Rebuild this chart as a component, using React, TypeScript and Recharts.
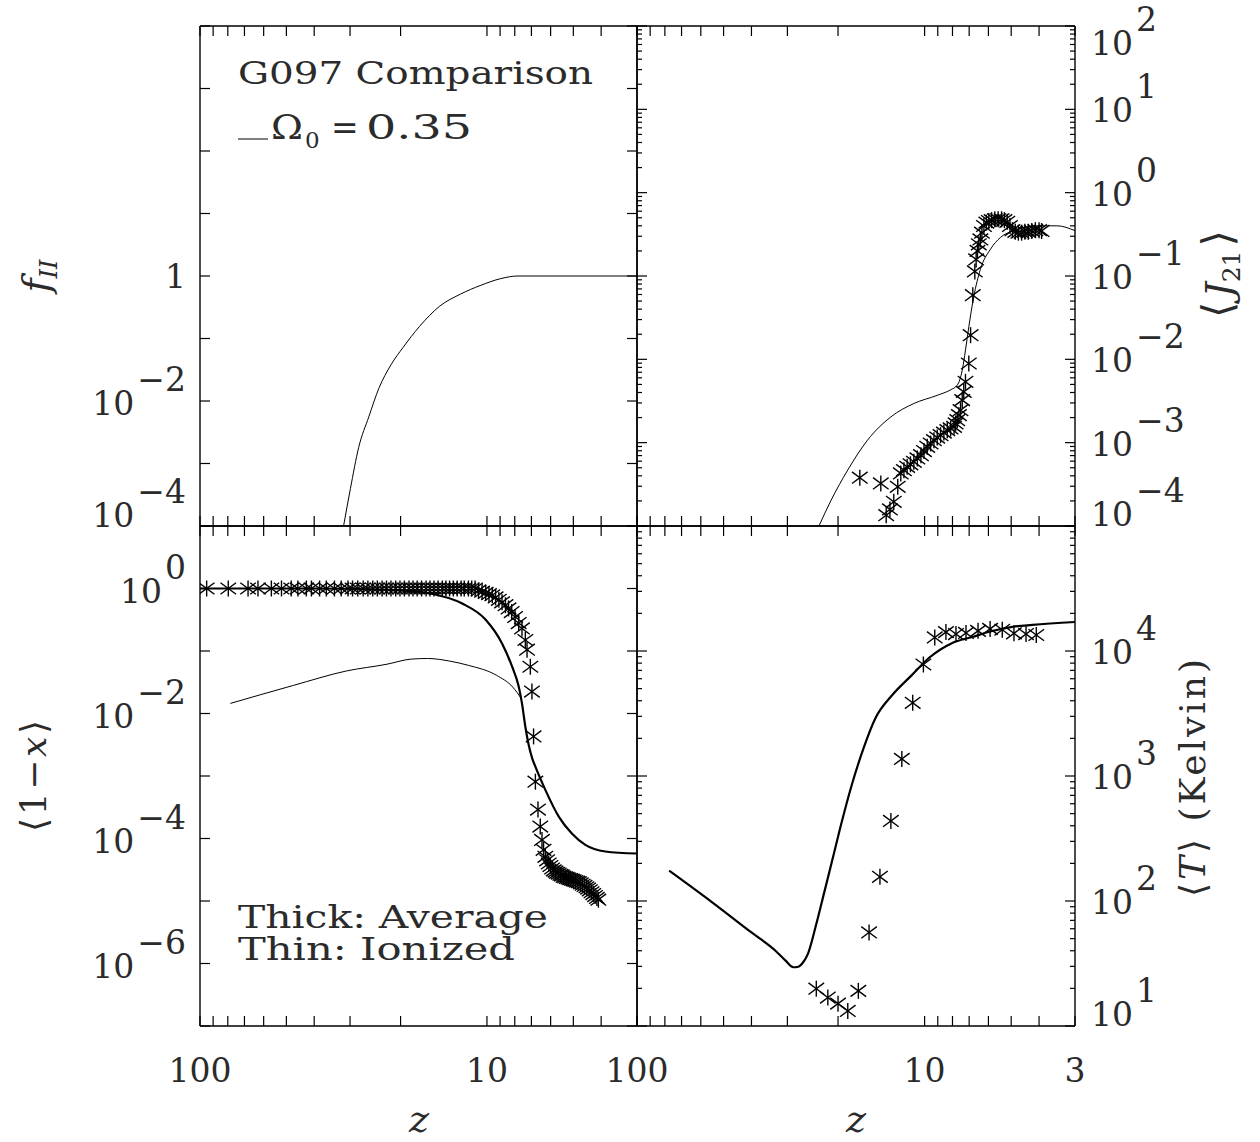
import { ComposedChart, Line, Scatter, XAxis, YAxis } from 'recharts';

const W = 1260;
const H = 1142;
const PLOT_H = 500;
const INK = '#000';
const TEXT = '#2b2b2b';
const SERIF = '"DejaVu Serif", "Liberation Serif", serif';

// Redshift axis shared by all four panels (high z on the left)
const zDomain: [number, number] = [3, 100];
const zTicks = [100, 90, 80, 70, 60, 50, 40, 30, 20, 10, 9, 8, 7, 6, 5, 4, 3];

// Ionized volume fraction f_II (Omega_0 = 0.35 model)
const fIIZ = [31.6, 29.9, 28.0, 25.8, 23.8, 21.6, 19.6, 17.2, 14.6, 12.4, 10.5, 8.94, 7.8, 3.0];
const fIIV = [1.0e-4, 4.0e-4, 1.8e-3, 5.6e-3, 1.6e-2, 3.8e-2, 7.2e-2, 0.155, 0.33, 0.51, 0.71, 0.91, 1.0, 1.0];

// <J21> model curve
const j21ModelZ = [23.3, 21.2, 18.5, 15.8, 13.1, 10.9, 9.04, 8.13, 7.7, 7.4, 7.21, 7.02, 6.75, 6.4, 5.9, 5.45, 4.9, 4.06, 3.46, 3.0];
const j21ModelV = [1.0e-4, 2.0e-4, 4.7e-4, 1.07e-3, 2.04e-3, 2.95e-3, 3.7e-3, 4.3e-3, 4.9e-3, 7.4e-3, 1.29e-2, 2.45e-2, 5.6e-2, 0.12, 0.21, 0.29, 0.35, 0.4, 0.4, 0.35];

// <J21> simulation (G097)
const j21SimZ = [
  16.8, 14.2, 13.6, 13.2, 12.8, 12.4, 12.1, 11.8, 11.5, 11.2, 10.9, 10.6, 10.3, 10.05, 9.79, 9.53, 9.28, 9.04,
  8.8, 8.57, 8.34, 8.12, 7.9, 7.8, 7.7, 7.6, 7.5, 7.4, 7.31, 7.21, 7.02, 6.92, 6.8, 6.69, 6.62, 6.55, 6.48, 6.4,
  6.32, 6.22, 6.1, 5.98, 5.85, 5.7, 5.55, 5.4, 5.28, 5.16, 5.05, 4.95, 4.84, 4.72, 4.6, 4.48, 4.36, 4.24, 4.12,
  4.0, 3.92,
];
const j21SimV = [
  3.8e-4, 3.24e-4, 1.35e-4, 1.58e-4, 1.95e-4, 2.95e-4, 4.27e-4, 4.68e-4, 5.13e-4, 5.5e-4, 5.89e-4, 6.46e-4,
  7.08e-4, 7.94e-4, 8.91e-4, 9.77e-4, 1.07e-3, 1.15e-3, 1.23e-3, 1.32e-3, 1.41e-3, 1.48e-3, 1.55e-3, 1.7e-3,
  1.86e-3, 2.14e-3, 2.45e-3, 3.24e-3, 4.07e-3, 5.37e-3, 8.91e-3, 1.95e-2, 5.89e-2, 0.1135, 0.158, 0.2, 0.24,
  0.275, 0.331, 0.398, 0.437, 0.457, 0.468, 0.479, 0.479, 0.479, 0.468, 0.447, 0.398, 0.355, 0.339, 0.331,
  0.331, 0.339, 0.339, 0.347, 0.355, 0.355, 0.347,
];

// <1-x>: volume average (thick) and ionized regions only (thin)
const xAvgZ = [100, 40, 25, 20, 15.9, 12.2, 10.1, 8.86, 8.17, 7.75, 7.55, 7.35, 7.15, 6.95, 6.78, 6.26, 5.62, 5.06, 4.54, 3.87, 3.0];
const xAvgV = [1.0, 1.0, 0.97, 0.93, 0.84, 0.575, 0.316, 0.132, 0.056, 0.027, 0.0145, 6.2e-3, 3.1e-3, 1.9e-3, 1.41e-3, 6.0e-4, 2.24e-4, 1.2e-4, 7.9e-5, 6.2e-5, 5.75e-5];
const xIonZ = [78.4, 47.2, 30.9, 22.3, 18.4, 16.1, 13.5, 11.6, 9.25, 8.12, 7.62];
const xIonV = [0.0145, 0.0282, 0.0479, 0.0615, 0.0741, 0.0759, 0.069, 0.0589, 0.0407, 0.0263, 0.0178];

// <1-x> simulation
const xSimZ = [
  94.8, 79.7, 68.0, 62.8, 56.4, 52.0, 48.1, 45.6, 42.6, 40.9, 38.3, 36.3, 34.0, 32.2, 30.5, 29.4, 28.2, 27.0,
  26.0, 25.0, 24.1, 23.2, 22.4, 21.6, 20.8, 20.1, 19.4, 18.7, 18.1, 17.5, 16.9, 16.3, 15.8, 15.3, 14.8, 14.3,
  13.9, 13.5, 13.1, 12.7, 12.3, 12.0, 11.6, 11.3, 11.0, 10.7, 10.4, 10.1, 9.84, 9.58, 9.33, 9.09, 8.86, 8.62,
  8.41, 8.2, 7.98, 7.75, 7.55, 7.35, 7.25, 7.06, 6.97, 6.88, 6.78, 6.64, 6.52, 6.43, 6.35, 6.26, 6.17, 6.09,
  6.01, 5.93, 5.85, 5.77, 5.7, 5.62, 5.55, 5.48, 5.41, 5.34, 5.27, 5.2, 5.13, 5.06, 4.99, 4.92, 4.85, 4.78,
  4.71, 4.64, 4.57, 4.5, 4.44, 4.38, 4.32, 4.26, 4.2, 4.14, 4.09,
];
const xSimV = [
  1, 1, 1, 1, 1, 1, 1, 1, 1, 1, 1, 1, 1, 1, 1, 1, 1, 1,
  1, 1, 1, 1, 1, 1, 1, 1, 1, 1, 1, 1, 1, 1, 1, 1, 1, 1,
  1, 1, 1, 1, 1, 1, 1, 1, 1, 0.93, 0.89, 0.85, 0.81, 0.78, 0.72, 0.66, 0.6, 0.54,
  0.48, 0.42, 0.35, 0.28, 0.23, 0.15, 0.105, 0.056, 0.0224, 4.3e-3, 8.1e-4, 2.9e-4, 1.55e-4, 9.5e-5, 6.6e-5, 5.1e-5, 4.47e-5, 3.98e-5,
  3.63e-5, 3.31e-5, 3.09e-5, 2.95e-5, 2.82e-5, 2.75e-5, 2.63e-5, 2.57e-5, 2.45e-5, 2.4e-5, 2.34e-5, 2.29e-5, 2.24e-5, 2.19e-5, 2.14e-5, 2.09e-5, 2.04e-5, 2.0e-5,
  1.91e-5, 1.82e-5, 1.74e-5, 1.66e-5, 1.58e-5, 1.48e-5, 1.38e-5, 1.29e-5, 1.2e-5, 1.12e-5, 1.05e-5,
];

// <T> in Kelvin: model (thick) and simulation
const tAvgZ = [77.3, 55.2, 40.0, 33.0, 30.5, 28.6, 27.5, 26.4, 25.5, 23.9, 22.4, 21.0, 19.7, 17.9, 16.3, 14.8, 13.0, 11.1, 9.6, 8.04, 6.84, 5.82, 4.95, 4.22, 3.0];
const tAvgV = [175, 99, 56, 40, 33.5, 29.5, 29.8, 32.5, 37.4, 63, 114, 207, 376, 855, 1670, 2920, 4400, 6380, 8910, 11560, 12940, 14450, 15600, 16180, 17060];
const tSimZ = [23.8, 21.7, 20.0, 18.5, 17.0, 15.6, 14.3, 13.1, 12.0, 11.0, 10.1, 9.22, 8.43, 7.78, 7.18, 6.52, 5.92, 5.37, 4.89, 4.44, 4.09];
const tSimV = [19.9, 16.9, 15.1, 13.2, 19.1, 56, 156, 437, 1370, 3850, 7800, 12850, 14160, 13650, 13960, 14490, 15030, 14790, 13840, 13650, 13430];

// y-axis decades per panel
const fIIDecades = [1e-4, 1e-3, 1e-2, 1e-1, 1, 10, 100, 1e3, 1e4];
const j21Decades = [1e-4, 1e-3, 1e-2, 1e-1, 1, 10, 100];
const xDecades = [1e-7, 1e-6, 1e-5, 1e-4, 1e-3, 1e-2, 1e-1, 1, 10];
const tDecades = [10, 100, 1e3, 1e4, 1e5];
const minorSteps = [2, 3, 4, 5, 6, 7, 8, 9];

type Pt = { z: number; v: number };
type TickLabel = { exp: number; dy: number; plain?: string };

const zip = (z: number[], v: number[]): Pt[] => z.map((zz, i) => ({ z: zz, v: v[i] }));
const withMinors = (decades: number[]) => [
  ...decades,
  ...decades.slice(0, -1).flatMap((d) => minorSteps.map((m) => m * d)),
];

function Asterisk(props: { cx?: number; cy?: number }) {
  const { cx, cy } = props;
  if (cx == null || cy == null) return null;
  const rv = 8;
  const dx = 7.8;
  const dy = 5.8;
  return (
    <g stroke={INK} strokeWidth={1.4}>
      <line x1={cx} y1={cy - rv} x2={cx} y2={cy + rv} />
      <line x1={cx - dx} y1={cy - dy} x2={cx + dx} y2={cy + dy} />
      <line x1={cx - dx} y1={cy + dy} x2={cx + dx} y2={cy - dy} />
    </g>
  );
}

// inward tick on the z axis, plus an optional label under the bottom frame
function zTick(side: 'top' | 'bottom', labels: number[]) {
  return (props: any) => {
    const { x, y, payload } = props;
    const inward = side === 'bottom' ? -1 : 1;
    return (
      <g>
        <line x1={x} y1={y} x2={x} y2={y + inward * 10} stroke={INK} strokeWidth={1.2} />
        {labels.includes(payload.value) && (
          <text x={x} y={y + 56} textAnchor="middle" fontFamily={SERIF} fontSize={33} fill={TEXT}>
            {payload.value}
          </text>
        )}
      </g>
    );
  };
}

function logTick(side: 'left' | 'right', labels: TickLabel[]) {
  return (props: any) => {
    const { x, y, payload } = props;
    const lg = Math.log10(payload.value);
    const p = Math.round(lg);
    const major = Math.abs(lg - p) < 1e-6;
    const inward = side === 'left' ? 1 : -1;
    const lab = major ? labels.find((l) => l.exp === p) : undefined;
    return (
      <g>
        <line x1={x} y1={y} x2={x + inward * (major ? 10 : 5)} y2={y} stroke={INK} strokeWidth={1.2} />
        {lab && (
          <text
            x={side === 'left' ? x - 14 : x + 16}
            y={y + lab.dy}
            textAnchor={side === 'left' ? 'end' : 'start'}
            fontFamily={SERIF}
            fontSize={33}
            fill={TEXT}
          >
            {lab.plain ?? '10'}
            {!lab.plain && (
              <tspan dx={3} dy={-24}>
                {p < 0 ? `\u2212${-p}` : p}
              </tspan>
            )}
          </text>
        )}
      </g>
    );
  };
}

interface PanelProps {
  left: number;
  top: number;
  width: number;
  yDomain: [number, number];
  yTicks: number[];
  leftLabels?: TickLabel[];
  rightLabels?: TickLabel[];
  zLabels?: number[];
  thin?: Pt[];
  thick?: Pt[];
  stars?: Pt[];
}

const frame = { stroke: INK, strokeWidth: 1.4 };
// axes take 1px each; the margins below give that back
const AX = 1;

function Panel({ left, top, width, yDomain, yTicks, leftLabels = [], rightLabels = [], zLabels = [], thin, thick, stars }: PanelProps) {
  const yCommon = {
    type: 'number' as const,
    scale: 'log' as const,
    domain: yDomain,
    allowDataOverflow: true,
    ticks: yTicks,
    interval: 0 as const,
    tickSize: 0,
    tickMargin: 0,
    tickLine: false,
    axisLine: frame,
    width: AX,
    dataKey: 'v',
  };
  const zCommon = {
    type: 'number' as const,
    dataKey: 'z',
    scale: 'log' as const,
    domain: zDomain,
    reversed: true,
    allowDataOverflow: true,
    ticks: zTicks,
    interval: 0 as const,
    tickSize: 0,
    tickMargin: 0,
    tickLine: false,
    axisLine: frame,
    height: AX,
  };
  return (
    <div style={{ position: 'absolute', left: 0, top: 0 }}>
      <ComposedChart
        width={W}
        height={H}
        margin={{
          top: top - AX,
          left: left - AX,
          right: W - left - width - AX,
          bottom: H - top - PLOT_H - AX,
        }}
      >
        <XAxis xAxisId="b" orientation="bottom" {...zCommon} tick={zTick('bottom', zLabels)} />
        <XAxis xAxisId="t" orientation="top" {...zCommon} tick={zTick('top', [])} />
        <YAxis yAxisId="l" orientation="left" {...yCommon} tick={logTick('left', leftLabels)} />
        <YAxis yAxisId="r" orientation="right" {...yCommon} tick={logTick('right', rightLabels)} />
        {thick && (
          <Line xAxisId="b" yAxisId="l" data={thick} dataKey="v" type="monotone" stroke={INK} strokeWidth={2.2} dot={false} activeDot={false} isAnimationActive={false} />
        )}
        {thin && (
          <Line xAxisId="b" yAxisId="l" data={thin} dataKey="v" type="monotone" stroke={INK} strokeWidth={1} dot={false} activeDot={false} isAnimationActive={false} />
        )}
        {stars && (
          <Scatter xAxisId="b" yAxisId="l" data={stars} dataKey="v" shape={(p: any) => <Asterisk cx={p.cx} cy={p.cy} />} isAnimationActive={false} />
        )}
      </ComposedChart>
    </div>
  );
}

function Titles() {
  return (
    <svg width={W} height={H} style={{ position: 'absolute', left: 0, top: 0 }} fontFamily={SERIF} fill={TEXT}>
      <text x={238} y={84} fontSize={32} textLength={355} lengthAdjust="spacingAndGlyphs">G097 Comparison</text>
      <line x1={238} y1={139} x2={268} y2={139} stroke={INK} strokeWidth={1} />
      <text x={271} y={139} fontSize={33} textLength={32} lengthAdjust="spacingAndGlyphs">Ω</text>
      <text x={305} y={148} fontSize={23}>0</text>
      <text x={331} y={139} fontSize={33}>=</text>
      <text x={366} y={139} fontSize={33} textLength={106} lengthAdjust="spacingAndGlyphs">0.35</text>

      <text x={238} y={928} fontSize={31} textLength={310} lengthAdjust="spacingAndGlyphs">Thick: Average</text>
      <text x={238} y={960} fontSize={31} textLength={277} lengthAdjust="spacingAndGlyphs">Thin: Ionized</text>

      <text x={419} y={1132} fontSize={38} fontStyle="italic" textAnchor="middle">z</text>
      <text x={856} y={1132} fontSize={38} fontStyle="italic" textAnchor="middle">z</text>

      <text transform="translate(49 276) rotate(-90)" fontSize={38} textAnchor="middle" fontStyle="italic">
        f<tspan fontSize={24} dy={8}>II</tspan>
      </text>
      <text transform="translate(46 776) rotate(-90)" fontSize={36} textAnchor="middle" textLength={112} lengthAdjust="spacing">
        ⟨1−<tspan fontStyle="italic">x</tspan>⟩
      </text>
      <text transform="translate(1232 274) rotate(-90)" fontSize={42} textAnchor="middle">
        ⟨<tspan dx={4} fontStyle="italic" fontSize={38}>J</tspan>
        <tspan fontSize={25} dy={8}>21</tspan>
        <tspan dx={4} dy={-8}>⟩</tspan>
      </text>
      <text transform="translate(1205 778) rotate(-90)" fontSize={36} textAnchor="middle" textLength={238} lengthAdjust="spacing">
        ⟨<tspan fontStyle="italic">T</tspan>⟩ (Kelvin)
      </text>
    </svg>
  );
}

export default function App() {
  return (
    <div style={{ position: 'absolute', left: 0, top: 0, width: W, height: H, background: '#fff' }}>
      <Panel
        left={200}
        top={26}
        width={437}
        yDomain={[1e-4, 1e4]}
        yTicks={fIIDecades}
        leftLabels={[
          { exp: 0, dy: 12, plain: '1' },
          { exp: -2, dy: 14 },
          { exp: -4, dy: 1 },
        ]}
        thin={zip(fIIZ, fIIV)}
      />
      <Panel
        left={637}
        top={26}
        width={438}
        yDomain={[1e-4, 1e2]}
        yTicks={withMinors(j21Decades)}
        rightLabels={[
          { exp: 2, dy: 29 },
          { exp: 1, dy: 13 },
          { exp: 0, dy: 13 },
          { exp: -1, dy: 13 },
          { exp: -2, dy: 13 },
          { exp: -3, dy: 13 },
          { exp: -4, dy: 0 },
        ]}
        thin={zip(j21ModelZ, j21ModelV)}
        stars={zip(j21SimZ, j21SimV)}
      />
      <Panel
        left={200}
        top={526}
        width={437}
        yDomain={[1e-7, 10]}
        yTicks={xDecades}
        leftLabels={[
          { exp: 0, dy: 14 },
          { exp: -2, dy: 14 },
          { exp: -4, dy: 14 },
          { exp: -6, dy: 14 },
        ]}
        zLabels={[100, 10]}
        thick={zip(xAvgZ, xAvgV)}
        thin={zip(xIonZ, xIonV)}
        stars={zip(xSimZ, xSimV)}
      />
      <Panel
        left={637}
        top={526}
        width={438}
        yDomain={[10, 1e5]}
        yTicks={withMinors(tDecades)}
        rightLabels={[
          { exp: 4, dy: 13 },
          { exp: 3, dy: 13 },
          { exp: 2, dy: 13 },
          { exp: 1, dy: 0 },
        ]}
        zLabels={[100, 10, 3]}
        thick={zip(tAvgZ, tAvgV)}
        stars={zip(tSimZ, tSimV)}
      />
      <Titles />
    </div>
  );
}
